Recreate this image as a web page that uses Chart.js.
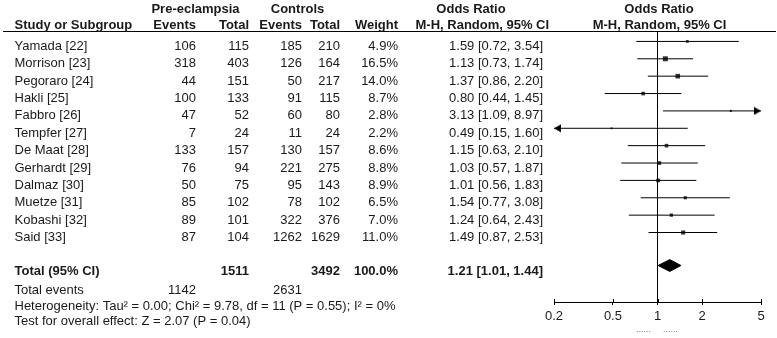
<!DOCTYPE html>
<html>
<head>
<meta charset="utf-8">
<script src="https://cdn.jsdelivr.net/npm/chart.js@4.4.0/dist/chart.umd.min.js"></script>
<style>
  html, body { margin: 0; padding: 0; background: #fff; }
  #wrap { position: relative; width: 777px; height: 338px; }
</style>
</head>
<body>
<div id="wrap"><canvas id="forest"></canvas></div>
<script>
// --- data ---
const studies = ['Yamada [22]', 'Morrison [23]', 'Pegoraro [24]', 'Hakli [25]', 'Fabbro [26]', 'Tempfer [27]',
                 'De Maat [28]', 'Gerhardt [29]', 'Dalmaz [30]', 'Muetze [31]', 'Kobashi [32]', 'Said [33]'];
const preEvents  = [106, 318, 44, 100, 47, 7, 133, 76, 50, 85, 89, 87];
const preTotal   = [115, 403, 151, 133, 52, 24, 157, 94, 75, 102, 101, 104];
const ctrlEvents = [185, 126, 50, 91, 60, 11, 130, 221, 95, 78, 322, 1262];
const ctrlTotal  = [210, 164, 217, 115, 80, 24, 157, 275, 143, 102, 376, 1629];
const weights    = [4.9, 16.5, 14.0, 8.7, 2.8, 2.2, 8.6, 8.8, 8.9, 6.5, 7.0, 11.0];
const oddsRatio  = [1.59, 1.13, 1.37, 0.80, 3.13, 0.49, 1.15, 1.03, 1.01, 1.54, 1.24, 1.49];
const ciLow      = [0.72, 0.73, 0.86, 0.44, 1.09, 0.15, 0.63, 0.57, 0.56, 0.77, 0.64, 0.87];
const ciHigh     = [3.54, 1.74, 2.20, 1.45, 8.97, 1.60, 2.10, 1.87, 1.83, 3.08, 2.43, 2.53];

const totalPre = 1511;
const totalCtrl = 3492;
const totalWeight = 100.0;
const totalOR = 1.21;
const totalLow = 1.01;
const totalHigh = 1.44;
const eventsPre = 1142;
const eventsCtrl = 2631;
const heterogeneityText = 'Heterogeneity: Tau\u00b2 = 0.00; Chi\u00b2 = 9.78, df = 11 (P = 0.55); I\u00b2 = 0%';
const overallText = 'Test for overall effect: Z = 2.07 (P = 0.04)';

const xTicks = [0.2, 0.5, 1, 2, 5];
const xMin = 0.2, xMax = 5;

// rows: studies are 0..11, the pooled estimate sits a bit lower
const totalRow = 12.9;
const yTop = -0.6, yBottom = 15;

const FONT = '"Liberation Sans", Arial, Helvetica, sans-serif';
const INK = '#1a1a1a';

// arrow heads for CIs running off the axis (tip sits at the point)
function arrowHead(dir) {
  const c = document.createElement('canvas');
  c.width = 18; c.height = 9;
  const g = c.getContext('2d');
  g.fillStyle = '#000';
  g.beginPath();
  if (dir > 0) { g.moveTo(9, 4.5); g.lineTo(2, 0.5); g.lineTo(2, 8.5); }
  else { g.moveTo(9, 4.5); g.lineTo(16, 0.5); g.lineTo(16, 8.5); }
  g.closePath();
  g.fill();
  return c;
}
const arrowRight = arrowHead(1);
const arrowLeft = arrowHead(-1);

const datasets = [];

// line of no effect
datasets.push({
  type: 'line',
  data: [{ x: 1, y: yTop }, { x: 1, y: yBottom }],
  borderColor: '#000', borderWidth: 1, pointRadius: 0
});

// confidence intervals
studies.forEach((s, i) => {
  datasets.push({
    type: 'line',
    data: [{ x: Math.max(ciLow[i], xMin), y: i }, { x: Math.min(ciHigh[i], xMax), y: i }],
    borderColor: '#000', borderWidth: 1, pointRadius: 0
  });
});

// study estimates, square size by weight
datasets.push({
  type: 'scatter',
  data: studies.map((s, i) => ({ x: oddsRatio[i], y: i })),
  pointStyle: 'rect',
  pointRadius: ctx => 0.87 * Math.sqrt(weights[ctx.dataIndex]),
  backgroundColor: '#333', borderWidth: 0
});

// arrows
const arrowPts = [];
const arrowStyles = [];
studies.forEach((s, i) => {
  if (ciHigh[i] > xMax) { arrowPts.push({ x: xMax, y: i }); arrowStyles.push(arrowRight); }
  if (ciLow[i] < xMin) { arrowPts.push({ x: xMin, y: i }); arrowStyles.push(arrowLeft); }
});
datasets.push({
  type: 'scatter',
  data: arrowPts,
  pointStyle: ctx => arrowStyles[ctx.dataIndex],
  clip: false
});

// pooled diamond
const dh = 0.34;
datasets.push({
  type: 'line',
  data: [
    { x: totalLow, y: totalRow }, { x: totalOR, y: totalRow - dh },
    { x: totalHigh, y: totalRow }, { x: totalOR, y: totalRow + dh },
    { x: totalLow, y: totalRow }
  ],
  borderColor: '#000', borderWidth: 1, backgroundColor: '#000',
  fill: 'shape', pointRadius: 0
});

// table text and rules
const tablePlugin = {
  id: 'tableText',
  afterDraw(chart) {
    const ctx = chart.ctx;
    const yS = chart.scales.y;
    const xS = chart.scales.x;
    const area = chart.chartArea;
    const put = (txt, x, y, align, bold, size) => {
      ctx.font = (bold ? 'bold ' : '') + (size || 13) + 'px ' + FONT;
      ctx.textAlign = align;
      ctx.fillText(txt, x, y);
    };
    ctx.save();
    ctx.fillStyle = INK;
    ctx.textBaseline = 'alphabetic';

    // header rule
    ctx.strokeStyle = '#000';
    ctx.lineWidth = 1;
    ctx.beginPath();
    ctx.moveTo(3, area.top + 0.5);
    ctx.lineTo(776, area.top + 0.5);
    ctx.stroke();

    // inner half of tick marks
    ctx.beginPath();
    xS.ticks.forEach(t => {
      const px = Math.round(xS.getPixelForValue(t.value)) + 0.5;
      ctx.moveTo(px, area.bottom - 3);
      ctx.lineTo(px, area.bottom);
    });
    ctx.stroke();

    // headers
    put('Pre-eclampsia', 195.5, 13, 'center', true);
    put('Controls', 297.5, 13, 'center', true);
    put('Odds Ratio', 471, 13, 'center', true);
    put('Odds Ratio', 659, 13, 'center', true);
    put('Study or Subgroup', 14.5, 28.5, 'left', true);
    put('Events', 196, 28.5, 'right', true);
    put('Total', 249, 28.5, 'right', true);
    put('Events', 302, 28.5, 'right', true);
    put('Total', 340, 28.5, 'right', true);
    put('Weight', 398, 28.5, 'right', true);
    put('M-H, Random, 95% CI', 415.5, 28.5, 'left', true);
    put('M-H, Random, 95% CI', 659.5, 28.5, 'center', true);

    // study rows
    studies.forEach((s, i) => {
      const y = yS.getPixelForValue(i) + 8.5;
      put(s, 14.5, y, 'left');
      put(String(preEvents[i]), 196, y, 'right');
      put(String(preTotal[i]), 249, y, 'right');
      put(String(ctrlEvents[i]), 302, y, 'right');
      put(String(ctrlTotal[i]), 340, y, 'right');
      put(weights[i].toFixed(1) + '%', 398, y, 'right');
      put(oddsRatio[i].toFixed(2) + ' [' + ciLow[i].toFixed(2) + ', ' + ciHigh[i].toFixed(2) + ']', 543, y, 'right');
    });

    // pooled row
    const ty = yS.getPixelForValue(totalRow) + 9;
    put('Total (95% CI)', 14.5, ty, 'left', true);
    put(String(totalPre), 249, ty, 'right', true);
    put(String(totalCtrl), 340, ty, 'right', true);
    put(totalWeight.toFixed(1) + '%', 398, ty, 'right', true);
    put(totalOR.toFixed(2) + ' [' + totalLow.toFixed(2) + ', ' + totalHigh.toFixed(2) + ']', 543, ty, 'right', true);

    put('Total events', 14.5, 294, 'left');
    put(String(eventsPre), 196, 294, 'right');
    put(String(eventsCtrl), 302, 294, 'right');
    put(heterogeneityText, 14.5, 309.5, 'left');
    put(overallText, 14.5, 324.5, 'left');

    // favours labels (illegible in source)
    ctx.fillStyle = '#777';
    put('......', 636, 332, 'left', false, 9);
    put('......', 663, 332, 'left', false, 9);
    ctx.restore();
  }
};

const ctx = document.getElementById('forest').getContext('2d');
new Chart(ctx, {
  type: 'scatter',
  data: { datasets: datasets },
  options: {
    responsive: true,
    maintainAspectRatio: false,
    animation: false,
    events: [],
    layout: { padding: { left: 554, right: 16, top: 31, bottom: 0 } },
    plugins: { legend: { display: false }, tooltip: { enabled: false } },
    scales: {
      x: {
        type: 'logarithmic',
        min: xMin,
        max: xMax,
        afterBuildTicks: scale => { scale.ticks = xTicks.map(v => ({ value: v })); },
        afterFit: scale => { scale.height = 36; },
        ticks: {
          color: INK,
          font: { family: FONT, size: 13 },
          padding: 4,
          maxRotation: 0,
          callback: v => String(v)
        },
        grid: { drawOnChartArea: false, drawTicks: true, tickLength: 3, color: '#000' },
        border: { display: true, color: '#000', width: 1 }
      },
      y: {
        type: 'linear',
        display: false,
        reverse: true,
        min: yTop,
        max: yBottom
      }
    }
  },
  plugins: [tablePlugin]
});
</script>
</body>
</html>
